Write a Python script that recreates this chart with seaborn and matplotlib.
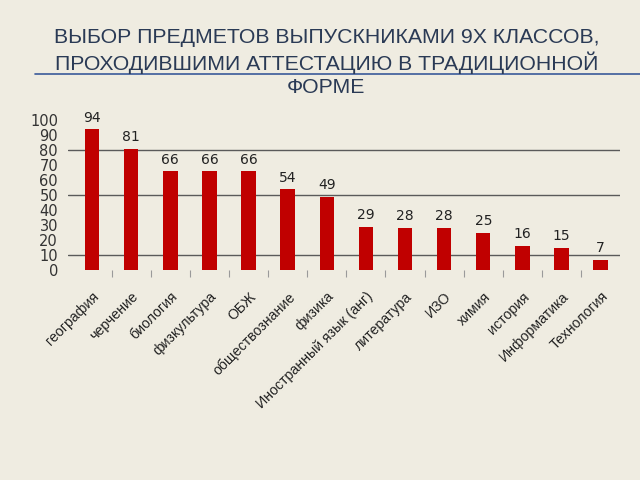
import matplotlib
matplotlib.use("Agg")
import matplotlib.pyplot as plt
import seaborn as sns
import pandas as pd
import numpy as np

categories = ["география", "черчение", "биология", "физкультура", "ОБЖ",
              "обществознание", "физика", "Иностранный язык (анг)", "литература",
              "ИЗО", "химия", "история", "Информатика", "Технология"]
values = [94, 81, 66, 66, 66, 54, 49, 29, 28, 28, 25, 16, 15, 7]
yticks = [0, 10, 20, 30, 40, 50, 60, 70, 80, 90, 100]
gridlines = [10, 50, 80]
title = "ВЫБОР ПРЕДМЕТОВ ВЫПУСКНИКАМИ 9Х КЛАССОВ,\nПРОХОДИВШИМИ АТТЕСТАЦИЮ В ТРАДИЦИОННОЙ\nФОРМЕ"

sns.set_theme(style="white")
plt.rcParams['font.family'] = ['DejaVu Sans']

bg = "#efece1"
fig = plt.figure(figsize=(6.4, 4.8), dpi=100, facecolor=bg)
ax = fig.add_axes([0.106, 0.4375, 0.863, 0.3125])
ax.set_facecolor(bg)

df = pd.DataFrame({"cat": categories, "val": values})
sns.barplot(data=df, x="cat", y="val", color="#c00000", width=0.37,
            saturation=1, linewidth=0, ax=ax)

ax.set_xlim(-0.62, len(categories) - 0.5)
ax.set_ylim(0, 100)
ax.set_yticks(yticks)
ax.set_yticklabels([str(t) for t in yticks], fontsize=10.5, color="#333333")
for g in gridlines:
    ax.axhline(g, color="#5a5a5a", lw=1.0, zorder=0)
for s in ax.spines.values():
    s.set_visible(False)
ax.tick_params(axis="y", length=0, pad=7)
ax.set_xlabel("")
ax.set_ylabel("")
ax.set_xticks(range(len(categories)))
ax.set_xticklabels(categories, rotation=45, ha="right", rotation_mode="anchor",
                   fontsize=10.2, color="#222222", family="Liberation Sans")
ax.tick_params(axis="x", which="major", length=0, pad=14)
ax.set_xticks(np.arange(0.5, len(categories) - 1, 1), minor=True)
ax.tick_params(axis="x", which="minor", length=5, width=0.8, color="#9a9a9a",
               direction="out", bottom=True)

for i, v in enumerate(values):
    ax.text(i, v + 3, str(v), ha="center", va="bottom", fontsize=10, color="#222222")

fig.text(0.51, 0.942, title, ha="center", va="top", fontsize=15.3,
         color="#2a3a55", linespacing=1.25, family="Liberation Sans")
fig.add_artist(plt.Line2D([0.055, 1.0], [0.846, 0.846], color="#3a5a9a", lw=1.2,
                          transform=fig.transFigure))

fig.savefig("out.png", dpi=100, facecolor=bg)
